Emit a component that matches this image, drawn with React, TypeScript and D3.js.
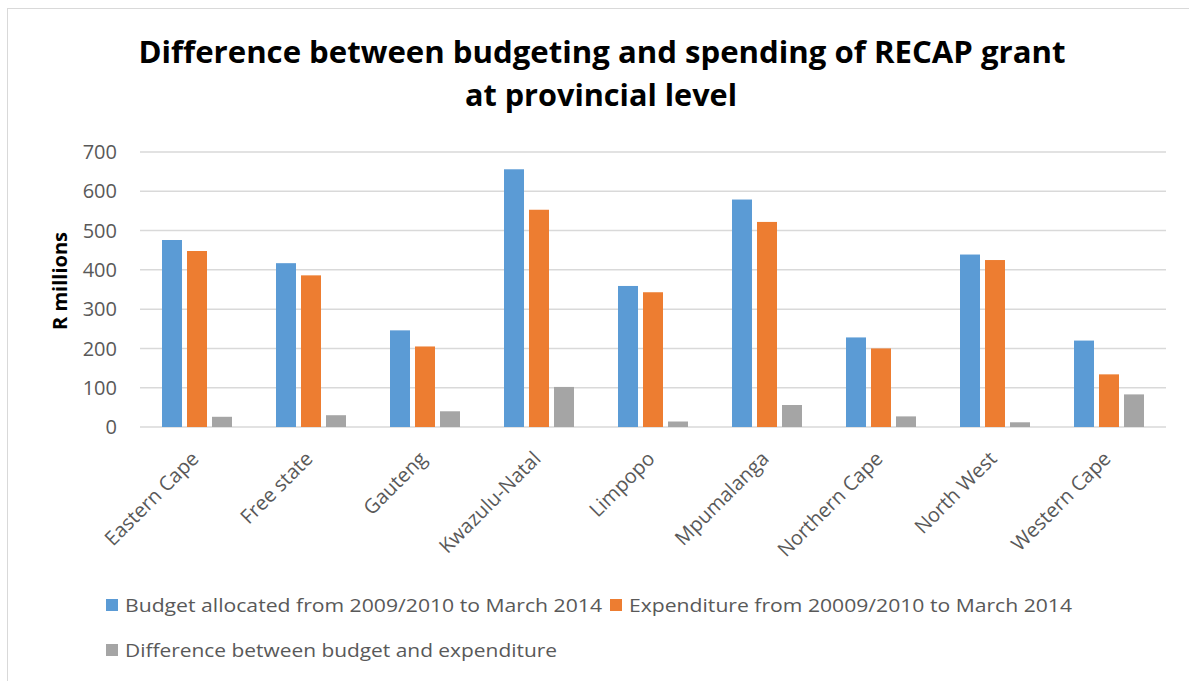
import React from "react";
import * as d3 from "d3";

const categories = ["Eastern Cape", "Free state", "Gauteng", "Kwazulu-Natal", "Limpopo", "Mpumalanga", "Northern Cape", "North West", "Western Cape"];
const budget = [476, 417, 246, 656, 359, 579, 228, 439, 220];
const expenditure = [448, 386, 205, 553, 343, 522, 200, 425, 134];
const difference = [26, 30, 40, 102, 14, 56, 27, 12, 83];
const yTicks = [0, 100, 200, 300, 400, 500, 600, 700];
const seriesNames = [
  "Budget allocated from 2009/2010 to March 2014",
  "Expenditure from 20009/2010 to March 2014",
  "Difference between budget and expenditure",
];
const colors = ["#5B9BD5", "#ED7D31", "#A5A5A5"];

const W = 1189;
const H = 681;
const plotLeft = 140;
const plotRight = 1166;
const plotTop = 152;
const plotBottom = 427;
const FONT = "'Open Sans', sans-serif";

export default function App() {
  const x = d3.scaleBand<string>().domain(categories).range([plotLeft, plotRight]).paddingInner(0).paddingOuter(0);
  const y = d3.scaleLinear().domain([0, 700]).range([plotBottom, plotTop]);
  const series = [budget, expenditure, difference];
  const inner = d3.scaleBand<number>().domain([0, 1, 2]).range([0, 70]).paddingInner(0.2).paddingOuter(0);
  const groupOffset = (x.bandwidth() - 70) / 2;

  const legend = [
    { x: 106, y: 599, tx: 125, ty: 612, len: 477, i: 0 },
    { x: 610, y: 599, tx: 629, ty: 612, len: 443, i: 1 },
    { x: 106, y: 644, tx: 125, ty: 657, len: 432, i: 2 },
  ];

  return (
    <svg width={W} height={H} style={{ position: "absolute", left: 0, top: 0, background: "#fff" }}>
      <rect x={7.5} y={8.5} width={1300} height={800} fill="#fff" stroke="#D9D9D9" strokeWidth={1} />
      <text x={602} y={63} textAnchor="middle" fontFamily={FONT} fontWeight="bold" fontSize={30} fill="#000" textLength={927} lengthAdjust="spacingAndGlyphs">
        Difference between budgeting and spending of RECAP grant
      </text>
      <text x={601} y={106} textAnchor="middle" fontFamily={FONT} fontWeight="bold" fontSize={30} fill="#000" textLength={272} lengthAdjust="spacingAndGlyphs">
        at provincial level
      </text>
      {yTicks.map((t) => (
        <g key={t}>
          <line x1={plotLeft} x2={plotRight} y1={y(t)} y2={y(t)} stroke="#D9D9D9" strokeWidth={1.5} />
          <text x={117} y={y(t)} dy="0.36em" textAnchor="end" fontFamily={FONT} fontSize={20} fill="#595959">
            {t}
          </text>
        </g>
      ))}
      <text
        transform={`translate(67, 281) rotate(-90)`}
        textAnchor="middle"
        fontFamily={FONT}
        fontWeight="bold"
        fontSize={20}
        fill="#000"
      >
        R millions
      </text>
      {series.map((vals, si) =>
        vals.map((v, ci) => {
          const bx = (x(categories[ci]) as number) + groupOffset + (inner(si) as number);
          return (
            <rect
              key={`${si}-${ci}`}
              x={bx}
              y={y(v)}
              width={inner.bandwidth()}
              height={plotBottom - y(v)}
              fill={colors[si]}
            />
          );
        })
      )}
      {categories.map((c) => {
        const cx = (x(c) as number) + x.bandwidth() / 2;
        return (
          <text
            key={c}
            transform={`translate(${cx + 3}, 460) rotate(-45)`}
            textAnchor="end"
            fontFamily={FONT}
            fontSize={20}
            fill="#595959"
          >
            {c}
          </text>
        );
      })}
      {legend.map((l) => (
        <g key={l.i}>
          <rect x={l.x} y={l.y} width={12} height={12} fill={colors[l.i]} />
          <text
            x={l.tx}
            y={l.ty}
            fontFamily={FONT}
            fontSize={18.5}
            fill="#595959"
            textLength={l.len}
            lengthAdjust="spacingAndGlyphs"
          >
            {seriesNames[l.i]}
          </text>
        </g>
      ))}
    </svg>
  );
}
